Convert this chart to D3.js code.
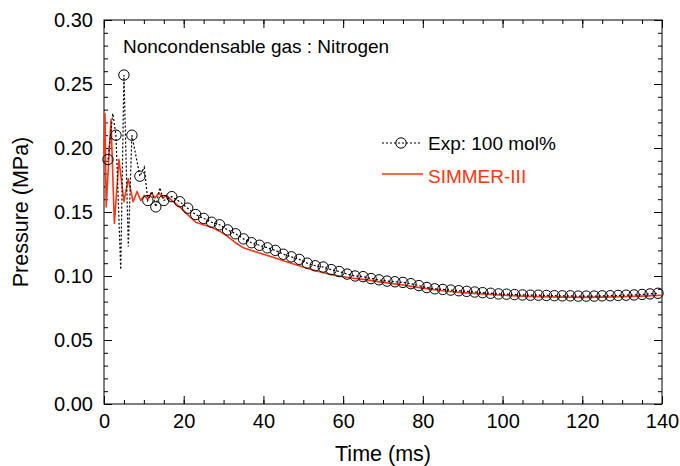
<!DOCTYPE html>
<html>
<head>
<meta charset="utf-8">
<script src="https://cdn.jsdelivr.net/npm/d3@7"></script>
<style>
  body { margin: 0; background: #fff; }
  svg { display: block; font-family: "Liberation Sans", Arial, sans-serif; }
  .axis path { stroke: #000; }
  .axis line { stroke: #000; }
</style>
</head>
<body>
<div id="root"></div>
<script>
'use strict';

// experimental markers (every 2 ms)
var markT = [1, 3, 5, 7, 9, 11, 13, 15, 17, 19, 21, 23, 25, 27, 29, 31, 33, 35, 37, 39,
  41, 43, 45, 47, 49, 51, 53, 55, 57, 59, 61, 63, 65, 67, 69, 71, 73, 75, 77, 79,
  81, 83, 85, 87, 89, 91, 93, 95, 97, 99, 101, 103, 105, 107, 109, 111, 113, 115, 117, 119,
  121, 123, 125, 127, 129, 131, 133, 135, 137, 139];
var markP = [0.191, 0.210, 0.257, 0.210, 0.178, 0.159, 0.154, 0.159, 0.162, 0.158,
  0.153, 0.148, 0.145, 0.142, 0.140, 0.136, 0.133, 0.129, 0.126, 0.124,
  0.122, 0.120, 0.117, 0.115, 0.113, 0.110, 0.108, 0.107, 0.105, 0.1035,
  0.1015, 0.100, 0.0995, 0.098, 0.097, 0.096, 0.0955, 0.095, 0.094, 0.0925,
  0.091, 0.090, 0.0895, 0.089, 0.0885, 0.088, 0.0875, 0.087, 0.0865, 0.086,
  0.0858, 0.0855, 0.0852, 0.085, 0.085, 0.0848, 0.0846, 0.0845, 0.0845, 0.0843,
  0.0843, 0.0843, 0.0845, 0.0846, 0.0848, 0.085, 0.0852, 0.0856, 0.086, 0.0865];

// extra samples of the dotted experimental trace between markers
var spikeT = [2.2, 4.2, 6.1, 10.1, 12, 14];
var spikeP = [0.227, 0.105, 0.123, 0.185, 0.166, 0.169];

// SIMMER-III calculation
var simT = [0, 0.25, 0.55, 1.75, 2.6, 3.75, 5, 6.1, 7.3, 8.3, 9.2, 10.1, 10.9, 11.9, 12.8,
  13.8, 14.8, 15.7, 17, 19, 21, 23, 25, 27, 29, 31, 33, 35, 37, 39, 41, 43, 45, 47, 49,
  52, 55, 58, 62, 66, 70, 75, 80, 85, 90, 95, 100, 105, 110, 115, 120, 125, 130, 135, 140];
var simP = [0.195, 0.227, 0.154, 0.222, 0.141, 0.191, 0.158, 0.176, 0.158, 0.166, 0.159,
  0.163, 0.160, 0.165, 0.161, 0.165, 0.161, 0.163, 0.159, 0.154, 0.148, 0.142, 0.140,
  0.138, 0.135, 0.131, 0.126, 0.122, 0.120, 0.118, 0.116, 0.114, 0.112, 0.110, 0.108,
  0.105, 0.1025, 0.1005, 0.0985, 0.097, 0.095, 0.093, 0.0905, 0.0885, 0.087, 0.086, 0.085,
  0.0843, 0.0838, 0.0835, 0.0833, 0.0835, 0.0838, 0.0843, 0.0850];

var xTicks = [0, 20, 40, 60, 80, 100, 120, 140];
var yTicks = [0, 0.05, 0.10, 0.15, 0.20, 0.25, 0.30];
var titleText = 'Noncondensable gas : Nitrogen';
var legendLabels = ['Exp: 100 mol%', 'SIMMER-III'];

var red = '#ff3410';
var width = 680;
var height = 466;
var plotL = 104, plotR = 662, plotT = 20, plotB = 404;

var svg = d3.select('#root')
  .append('svg')
  .attr('width', width)
  .attr('height', height);

var x = d3.scaleLinear().domain([0, 140]).range([plotL, plotR]);
var y = d3.scaleLinear().domain([0, 0.3]).range([plotB, plotT]);

var markers = markT.map((t, i) => ({ t: t, p: markP[i] }));
var expLine = markers.concat(spikeT.map((t, i) => ({ t: t, p: spikeP[i] })))
  .sort((a, b) => a.t - b.t);
var sim = simT.map((t, i) => ({ t: t, p: simP[i] }));

var minorX = d3.range(0, 141, 5);
var minorY = d3.range(0, 31).map(d => d / 100);

function styleAxis(g) {
  g.attr('class', 'axis');
  g.selectAll('path').remove();
  g.selectAll('line').attr('stroke-width', 1);
}

// minor ticks
svg.append('g').attr('transform', `translate(0,${plotB})`)
  .call(d3.axisBottom(x).tickValues(minorX).tickSize(-4).tickFormat(''))
  .call(styleAxis);
svg.append('g').attr('transform', `translate(0,${plotT})`)
  .call(d3.axisTop(x).tickValues(minorX).tickSize(-4).tickFormat(''))
  .call(styleAxis);
svg.append('g').attr('transform', `translate(${plotL},0)`)
  .call(d3.axisLeft(y).tickValues(minorY).tickSize(-4).tickFormat(''))
  .call(styleAxis);
svg.append('g').attr('transform', `translate(${plotR},0)`)
  .call(d3.axisRight(y).tickValues(minorY).tickSize(-4).tickFormat(''))
  .call(styleAxis);

// major ticks with labels
svg.append('g').attr('transform', `translate(0,${plotB})`)
  .call(d3.axisBottom(x).tickValues(xTicks).tickSize(-8).tickPadding(10).tickFormat(d3.format('d')))
  .call(styleAxis);
svg.append('g').attr('transform', `translate(0,${plotT})`)
  .call(d3.axisTop(x).tickValues(xTicks).tickSize(-8).tickFormat(''))
  .call(styleAxis);
svg.append('g').attr('transform', `translate(${plotL},0)`)
  .call(d3.axisLeft(y).tickValues(yTicks).tickSize(-8).tickPadding(11).tickFormat(d3.format('.2f')))
  .call(styleAxis);
svg.append('g').attr('transform', `translate(${plotR},0)`)
  .call(d3.axisRight(y).tickValues(yTicks).tickSize(-8).tickFormat(''))
  .call(styleAxis);

svg.selectAll('.axis text')
  .attr('font-family', '"Liberation Sans", Arial, sans-serif')
  .attr('font-size', 20)
  .attr('fill', '#000');

// frame
svg.append('rect')
  .attr('x', plotL).attr('y', plotT)
  .attr('width', plotR - plotL).attr('height', plotB - plotT)
  .attr('fill', 'none').attr('stroke', '#000').attr('stroke-width', 1);

var line = d3.line().x(d => x(d.t)).y(d => y(d.p));

// SIMMER-III
svg.append('path')
  .datum(sim)
  .attr('d', line)
  .attr('fill', 'none')
  .attr('stroke', red)
  .attr('stroke-width', 1.6)
  .attr('stroke-linejoin', 'round');

// experiment dotted trace
svg.append('path')
  .datum(expLine)
  .attr('d', line)
  .attr('fill', 'none')
  .attr('stroke', '#000')
  .attr('stroke-width', 1.2)
  .attr('stroke-dasharray', '2,2');

svg.append('g').selectAll('circle')
  .data(markers)
  .enter()
  .append('circle')
  .attr('cx', d => x(d.t))
  .attr('cy', d => y(d.p))
  .attr('r', 5.2)
  .attr('fill', 'none')
  .attr('stroke', '#000')
  .attr('stroke-width', 1);

// annotation
svg.append('text')
  .attr('x', 123).attr('y', 53)
  .attr('font-size', 19)
  .text(titleText);

// legend
var lg = svg.append('g');
lg.append('line')
  .attr('x1', 382).attr('x2', 422).attr('y1', 143).attr('y2', 143)
  .attr('stroke', '#000').attr('stroke-width', 1.2).attr('stroke-dasharray', '2,2');
lg.append('circle')
  .attr('cx', 401).attr('cy', 143).attr('r', 5.2)
  .attr('fill', 'none').attr('stroke', '#000');
lg.append('text')
  .attr('x', 428).attr('y', 150)
  .attr('font-size', 19)
  .text(legendLabels[0]);
lg.append('line')
  .attr('x1', 382).attr('x2', 423).attr('y1', 174).attr('y2', 174)
  .attr('stroke', red).attr('stroke-width', 1.6);
lg.append('text')
  .attr('x', 428).attr('y', 183)
  .attr('font-size', 19)
  .attr('fill', red)
  .text(legendLabels[1]);

// axis titles
svg.append('text')
  .attr('x', (plotL + plotR) / 2).attr('y', 461)
  .attr('text-anchor', 'middle')
  .attr('font-size', 21.5)
  .text('Time (ms)');
svg.append('text')
  .attr('transform', `translate(28,${(plotT + plotB) / 2}) rotate(-90)`)
  .attr('text-anchor', 'middle')
  .attr('font-size', 21.5)
  .text('Pressure (MPa)');
</script>
</body>
</html>
